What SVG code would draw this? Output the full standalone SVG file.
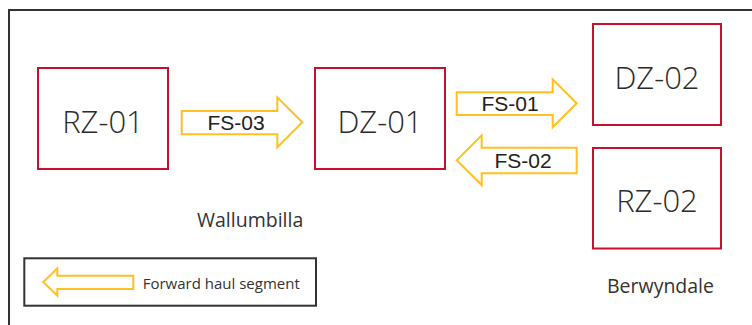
<svg xmlns="http://www.w3.org/2000/svg" width="752" height="325" viewBox="0 0 752 325">
  <style>
    .zone { fill: #ffffff; stroke: #C8102E; stroke-width: 2; }
    .ztext { font-family: "Open Sans", "Liberation Sans", sans-serif; font-weight: 300; font-size: 31px; fill: #2b2b2b; text-anchor: middle; }
    .arrow { fill: #ffffff; stroke: #FFC020; stroke-width: 2; stroke-linejoin: miter; }
    .alabel { font-family: "Liberation Sans", Arial, sans-serif; font-size: 21px; fill: #222222; text-anchor: middle; }
    .site { font-family: "Open Sans", "Liberation Sans", sans-serif; font-size: 19.5px; fill: #333333; }
    .legtext { font-family: "Open Sans", "Liberation Sans", sans-serif; font-size: 15px; fill: #333333; }
    .frame { fill: none; stroke: #333333; stroke-width: 2; }
  </style>
  <rect x="0" y="0" width="752" height="325" fill="#ffffff"/>
  <rect class="frame" x="9" y="10" width="760" height="330"/>

  <g id="RZ-01">
    <rect class="zone" x="38" y="68" width="130" height="101"/>
    <text class="ztext" x="103" y="133">RZ-01</text>
  </g>
  <g id="DZ-01">
    <rect class="zone" x="315" y="68" width="130" height="101"/>
    <text class="ztext" x="380" y="133">DZ-01</text>
  </g>
  <g id="DZ-02">
    <rect class="zone" x="593" y="24" width="128" height="101"/>
    <text class="ztext" x="657" y="88.5">DZ-02</text>
  </g>
  <g id="RZ-02">
    <rect class="zone" x="593" y="148" width="128" height="100.5"/>
    <text class="ztext" x="657" y="211.5">RZ-02</text>
  </g>

  <g id="sites">
    <text class="site" x="197" y="226.7">Wallumbilla</text>
    <text class="site" x="607" y="293.3">Berwyndale</text>
  </g>

  <g id="connectors">
    <g id="FS-03">
      <path class="arrow" d="M181.7,111 H277.3 V97.3 L302.3,122.3 L277.3,147.3 V134.3 H181.7 Z"/>
      <text class="alabel" x="236" y="130">FS-03</text>
    </g>
    <g id="FS-01">
      <path class="arrow" d="M456.7,92.3 H552.7 V79.3 L576.7,103.3 L552.7,127.3 V115 H456.7 Z"/>
      <text class="alabel" x="510" y="111">FS-01</text>
    </g>
    <g id="FS-02">
      <path class="arrow" d="M576.7,147.7 H481.7 V135.3 L456.7,160.3 L481.7,185 V173.3 H576.7 Z"/>
      <text class="alabel" x="523" y="168.3">FS-02</text>
    </g>
  </g>

  <g id="legend">
    <rect x="24.3" y="258.3" width="291.7" height="47.4" fill="#ffffff" stroke="#333333" stroke-width="2"/>
    <path class="arrow" d="M133.3,275.7 H57.3 V268.3 L43.3,282 L57.3,295.7 V289 H133.3 Z"/>
    <text class="legtext" x="142.7" y="289.3">Forward haul segment</text>
  </g>
</svg>
